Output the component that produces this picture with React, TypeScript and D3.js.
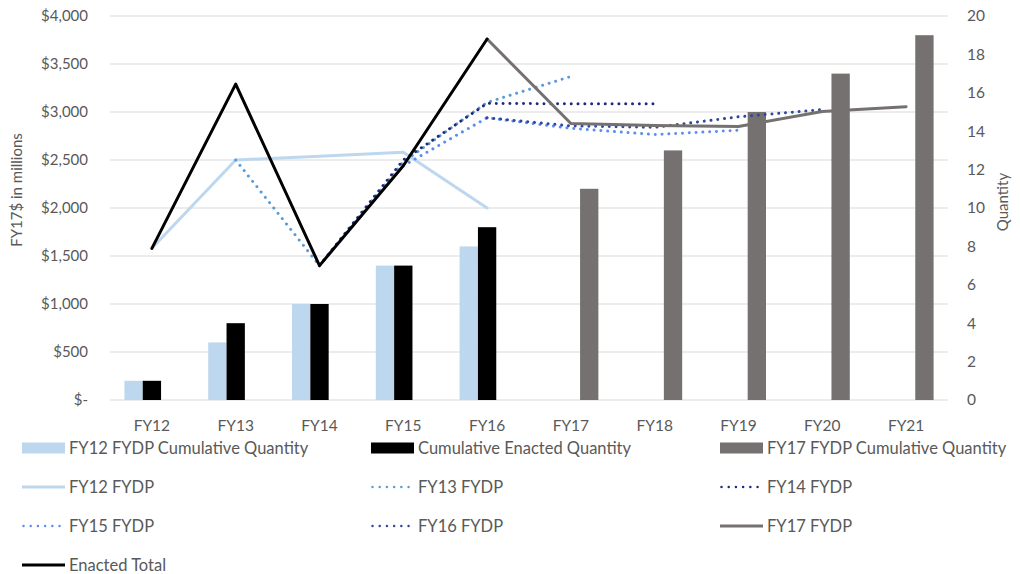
import React from 'react';
import * as d3 from 'd3';

const categories = ['FY12', 'FY13', 'FY14', 'FY15', 'FY16', 'FY17', 'FY18', 'FY19', 'FY20', 'FY21'];

// quantities (right axis)
const fy12CumQty = [1, 3, 5, 7, 8, null, null, null, null, null];
const enactedCumQty = [1, 4, 5, 7, 9, null, null, null, null, null];
const fy17CumQty = [null, null, null, null, null, 11, 13, 15, 17, 19];

// FY17$ millions (left axis)
const fy12Fydp = [1580, 2500, 2540, 2580, 2000, null, null, null, null, null];
const fy13Fydp = [null, 2500, 1400, 2480, 3100, 3370, null, null, null, null];
const fy14Fydp = [null, null, 1400, 2500, 3090, 3085, 3085, null, null, null];
const fy15Fydp = [null, null, null, 2440, 2940, 2830, 2765, 2810, null, null];
const fy16Fydp = [null, null, null, null, 2940, 2855, 2840, 2950, 3025, null];
const fy17Fydp = [null, null, null, null, 3760, 2880, 2860, 2850, 3005, 3055];
const enactedTotal = [1580, 3290, 1400, 2440, 3760, null, null, null, null, null];

const dollarTicks = [0, 500, 1000, 1500, 2000, 2500, 3000, 3500, 4000];
const qtyTicks = [0, 2, 4, 6, 8, 10, 12, 14, 16, 18, 20];

const FONT = 'Lato, "Open Sans", sans-serif';
const TXT = '#595959';
const GRID = '#D9D9D9';

const left = 110, right = 948, top = 16, bottom = 400;

const x = d3.scaleBand<string>().domain(categories).range([left, right]).paddingInner(0.344).paddingOuter(0.172);
const inner = d3.scaleBand<number>().domain([0, 1, 2]).range([0, x.bandwidth()]);
const yL = d3.scaleLinear().domain([0, 4000]).range([bottom, top]);
const yR = d3.scaleLinear().domain([0, 20]).range([bottom, top]);
const cx = (c: string) => (x(c) as number) + x.bandwidth() / 2;

const barSeries = [
  { name: 'FY12 FYDP Cumulative Quantity', values: fy12CumQty, color: '#BDD7EE' },
  { name: 'Cumulative Enacted Quantity', values: enactedCumQty, color: '#000000' },
  { name: 'FY17 FYDP Cumulative Quantity', values: fy17CumQty, color: '#767171' },
];

const dots = '0.01 6.8';
const lineSeries = [
  { name: 'FY12 FYDP', values: fy12Fydp, color: '#BDD7EE', dash: null },
  { name: 'FY13 FYDP', values: fy13Fydp, color: '#5B9BD5', dash: dots },
  { name: 'FY14 FYDP', values: fy14Fydp, color: '#1F2A78', dash: dots },
  { name: 'FY15 FYDP', values: fy15Fydp, color: '#5B8EF0', dash: dots },
  { name: 'FY16 FYDP', values: fy16Fydp, color: '#2F479E', dash: dots },
  { name: 'FY17 FYDP', values: fy17Fydp, color: '#767171', dash: null },
  { name: 'Enacted Total', values: enactedTotal, color: '#000000', dash: null },
];

const line = d3.line<[string, number | null]>()
  .defined(d => d[1] != null)
  .x(d => cx(d[0]))
  .y(d => yL(d[1] as number));

const fmtDollar = (v: number) => (v === 0 ? '$-' : '$' + d3.format(',')(v));

export default function App() {
  const legendItems: any[] = [
    ...barSeries.map(s => ({ ...s, kind: 'bar' })),
    ...lineSeries.map(s => ({ ...s, kind: 'line' })),
  ];
  const colX = [22, 371, 720];
  const rowY = [448, 487, 526, 565];

  return (
    <svg width={1020} height={574} style={{ position: 'absolute', left: 0, top: 0, background: '#fff' }} fontFamily={FONT}>
      {/* grid */}
      {dollarTicks.map(t => (
        <line key={t} x1={left} x2={right} y1={yL(t)} y2={yL(t)} stroke={GRID} strokeWidth={1} />
      ))}
      {/* axis labels */}
      {dollarTicks.map(t => (
        <text key={t} x={88} y={yL(t)} dy="0.35em" textAnchor="end" fontSize={15} fill={TXT}>{fmtDollar(t)}</text>
      ))}
      {qtyTicks.map(t => (
        <text key={t} x={967} y={yR(t)} dy="0.35em" fontSize={15.5} fill={TXT}>{t}</text>
      ))}
      {categories.map(c => (
        <text key={c} x={cx(c)} y={426} dy="0.35em" textAnchor="middle" fontSize={15.5} fill={TXT}>{c}</text>
      ))}
      <text transform="translate(17,190) rotate(-90)" textAnchor="middle" dy="0.35em" fontSize={15} fill={TXT}>FY17$ in millions</text>
      <text transform="translate(1003,202) rotate(-90)" textAnchor="middle" dy="0.35em" fontSize={15} fill={TXT}>Quantity</text>

      {/* bars */}
      {barSeries.map((s, si) =>
        s.values.map((v, i) =>
          v == null ? null : (
            <rect key={si + '-' + i} x={(x(categories[i]) as number) + (inner(si) as number)} y={yR(v)}
              width={inner.bandwidth()} height={bottom - yR(v)} fill={s.color} />
          )
        )
      )}

      {/* lines */}
      {lineSeries.map(s => (
        <path key={s.name} d={line(categories.map((c, i) => [c, s.values[i]])) || ''} fill="none"
          stroke={s.color} strokeWidth={s.dash ? 3 : 3} strokeLinecap="round" strokeLinejoin="round"
          strokeDasharray={s.dash || undefined} />
      ))}

      {/* legend */}
      {legendItems.map((s, i) => {
        const lx = colX[i % 3];
        const ly = rowY[Math.floor(i / 3)];
        return (
          <g key={s.name}>
            {s.kind === 'bar' ? (
              <rect x={lx} y={ly - 5.5} width={43} height={11} fill={s.color} />
            ) : (
              <line x1={lx + (s.dash ? 1.5 : 0)} x2={lx + 43} y1={ly} y2={ly} stroke={s.color}
                strokeWidth={s.dash ? 2.5 : 3} strokeLinecap={s.dash ? 'round' : 'butt'}
                strokeDasharray={s.dash ? '0.01 7.2' : undefined} />
            )}
            <text x={lx + 47} y={ly} dy="0.35em" fontSize={16.5} fill={TXT}>{s.name}</text>
          </g>
        );
      })}
    </svg>
  );
}
